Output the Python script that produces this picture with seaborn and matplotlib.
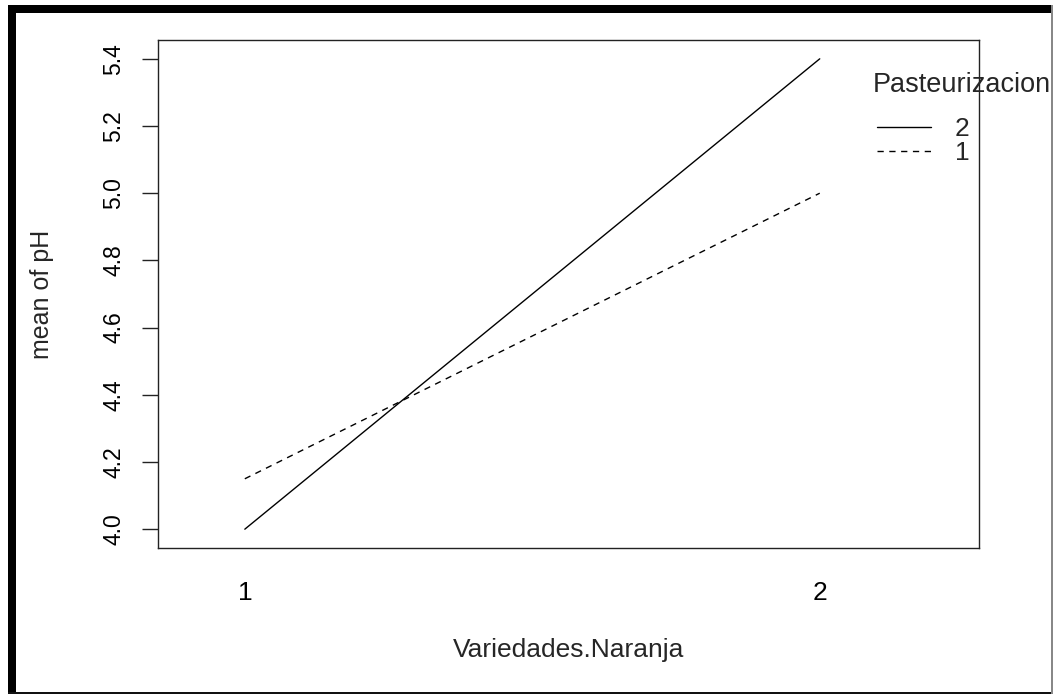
import numpy as np
import pandas as pd
import seaborn as sns
import matplotlib
matplotlib.use("Agg")
import matplotlib.pyplot as plt
from matplotlib.lines import Line2D
from matplotlib.patches import Rectangle

# ---- data ----
variedades = [1, 2]
pasteurizacion = ["2", "1"]
ph_past2 = [4.00, 5.40]
ph_past1 = [4.15, 5.00]
y_ticks = [4.0, 4.2, 4.4, 4.6, 4.8, 5.0, 5.2, 5.4]
x_ticklabels = ["1", "2"]

df = pd.DataFrame({
    "Variedades.Naranja": variedades * 2,
    "Pasteurizacion": ["2"] * 2 + ["1"] * 2,
    "pH": ph_past2 + ph_past1,
})

sns.set_style("white")
plt.rcParams["font.family"] = ["Liberation Sans", "DejaVu Sans"]

W, H = 1053, 695
fig = plt.figure(figsize=(W / 100, H / 100), dpi=100)
ax = fig.add_axes([158 / W, 1 - 548 / H, (979 - 158) / W, (548 - 40) / H])

dash_map = {"2": "", "1": (4.5, 4)}
sns.lineplot(data=df, x="Variedades.Naranja", y="pH", style="Pasteurizacion",
             style_order=pasteurizacion, dashes=dash_map, color="black",
             linewidth=1.0, legend=False, errorbar=None, ax=ax)

ax.set_xlim(0.849, 2.277)
ax.set_ylim(3.944, 5.456)
ax.set_xticks(variedades)
ax.set_xticklabels(x_ticklabels)
ax.set_yticks(y_ticks)
ax.set_yticklabels([f"{v:.1f}" for v in y_ticks], rotation=90, va="center")

for s in ax.spines.values():
    s.set_visible(True)
    s.set_color("#222222")
    s.set_linewidth(1.0)

ax.tick_params(axis="x", length=0, pad=24, labelsize=19, colors="black")
ax.tick_params(axis="y", length=11.5, width=1.0, color="#222222", pad=12,
               labelsize=16.5, labelcolor="black", left=True)

ax.set_xlabel("Variedades.Naranja", fontsize=19)
ax.set_ylabel("mean of pH", fontsize=18)
ax.xaxis.set_label_coords(0.5, (548 - 650) / 508)
ax.xaxis.label.set_va("center")
ax.yaxis.set_label_coords((42 - 158) / 821, 0.5)
ax.yaxis.label.set_va("center")

# legend (R interaction.plot style)
fig.text(873 / W, 1 - 85 / H, "Pasteurizacion", fontsize=19.5, ha="left", va="center")
handles = [Line2D([], [], color="black", lw=1.0, linestyle="-"),
           Line2D([], [], color="black", lw=1.0, dashes=dash_map["1"])]
leg = fig.legend(handles, pasteurizacion, loc="upper left",
                 bbox_to_anchor=(877 / W, 1 - 117 / H), frameon=False,
                 fontsize=19, handlelength=2.05, handletextpad=0.9,
                 labelspacing=0.0, borderpad=0.0, borderaxespad=0.0)

# figure frame like the screenshot
fig.add_artist(Rectangle((8 / W, 1 - 694 / H), 8 / W, 689 / H,
                         transform=fig.transFigure, color="black", lw=0))
fig.add_artist(Rectangle((8 / W, 1 - 13 / H), (W - 8) / W, 8 / H,
                         transform=fig.transFigure, color="black", lw=0))
fig.add_artist(Rectangle((8 / W, 1 - 694 / H), (W - 8) / W, 2 / H,
                         transform=fig.transFigure, color="#111111", lw=0))
fig.add_artist(Rectangle((1051 / W, 1 - 694 / H), 1.5 / W, 689 / H,
                         transform=fig.transFigure, color="#888888", lw=0))

fig.savefig("out.png", dpi=100)
